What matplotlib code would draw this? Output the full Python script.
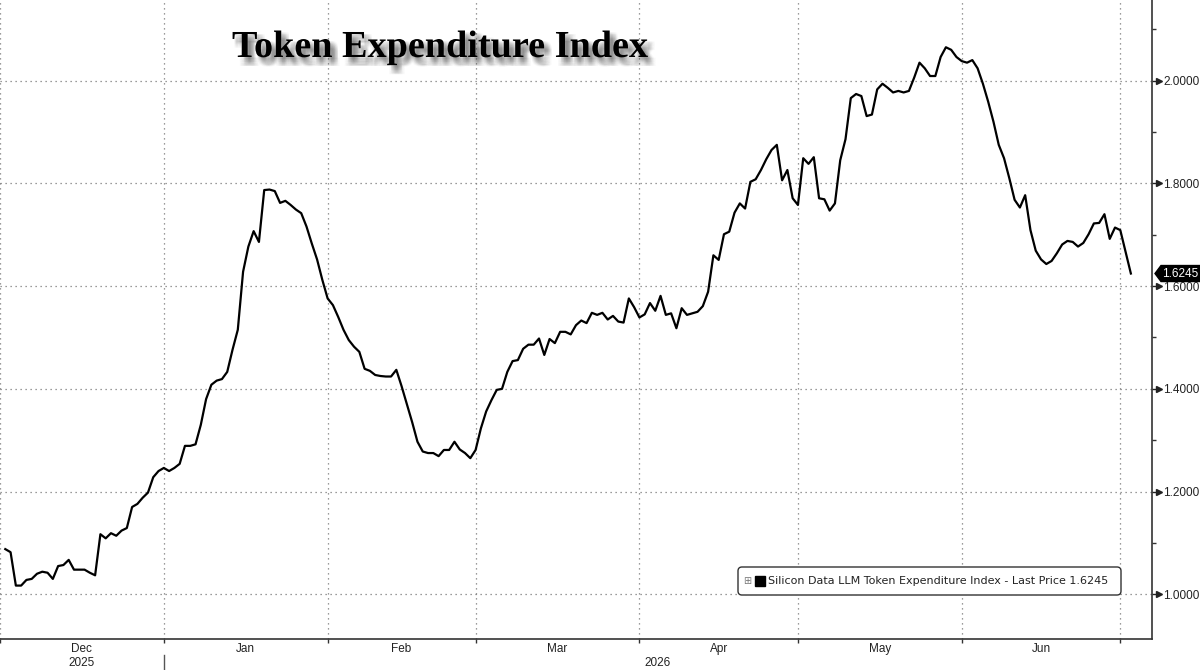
import matplotlib
matplotlib.use("Agg")
import matplotlib.pyplot as plt
import matplotlib.patheffects as pe
import matplotlib.transforms as mtransforms
import matplotlib.dates as mdates
from matplotlib.patches import FancyBboxPatch, Polygon, Rectangle
import pandas as pd

# ---------------- data ----------------
title = "Token Expenditure Index"
legend_label = "Silicon Data LLM Token Expenditure Index - Last Price 1.6245"
start_date = "2025-12-02"

dec_2025 = [1.088, 1.082, 1.017, 1.017, 1.028, 1.030, 1.040, 1.044, 1.042, 1.030,
            1.055, 1.057, 1.067, 1.048, 1.048, 1.048, 1.042, 1.037, 1.117, 1.109,
            1.119, 1.114, 1.124, 1.129, 1.170, 1.176, 1.188, 1.198, 1.228, 1.240]
jan_2026 = [1.246, 1.240, 1.246, 1.254, 1.289, 1.289, 1.292, 1.330, 1.380, 1.408,
            1.416, 1.419, 1.433, 1.476, 1.515, 1.628, 1.677, 1.707, 1.686, 1.787,
            1.788, 1.785, 1.762, 1.766, 1.758, 1.749, 1.742, 1.716, 1.683, 1.652,
            1.612]
feb_2026 = [1.576, 1.563, 1.540, 1.515, 1.495, 1.482, 1.472, 1.439, 1.435, 1.427,
            1.425, 1.424, 1.424, 1.437, 1.405, 1.370, 1.335, 1.297, 1.278, 1.275,
            1.275, 1.269, 1.281, 1.281, 1.297, 1.282, 1.275, 1.265]
mar_2026 = [1.281, 1.323, 1.356, 1.378, 1.398, 1.400, 1.433, 1.454, 1.456, 1.478,
            1.486, 1.486, 1.498, 1.466, 1.497, 1.489, 1.511, 1.511, 1.506, 1.524,
            1.533, 1.528, 1.548, 1.544, 1.548, 1.535, 1.542, 1.531, 1.529, 1.576,
            1.559]
apr_2026 = [1.539, 1.545, 1.567, 1.552, 1.581, 1.544, 1.547, 1.518, 1.557, 1.544,
            1.547, 1.550, 1.561, 1.589, 1.660, 1.651, 1.701, 1.706, 1.743, 1.761,
            1.751, 1.803, 1.808, 1.826, 1.847, 1.865, 1.875, 1.806, 1.826, 1.771]
may_2026 = [1.758, 1.849, 1.838, 1.851, 1.771, 1.769, 1.747, 1.761, 1.845, 1.886,
            1.966, 1.974, 1.970, 1.931, 1.934, 1.983, 1.994, 1.986, 1.977, 1.980,
            1.977, 1.980, 2.006, 2.035, 2.024, 2.009, 2.009, 2.046, 2.065, 2.060,
            2.046]
jun_2026 = [2.038, 2.035, 2.040, 2.024, 1.994, 1.959, 1.920, 1.875, 1.849, 1.810,
            1.768, 1.753, 1.777, 1.709, 1.669, 1.652, 1.643, 1.649, 1.664, 1.681,
            1.688, 1.686, 1.677, 1.684, 1.701, 1.722, 1.723, 1.740, 1.692, 1.714]
jul_2026 = [1.709, 1.667, 1.6245]

last_price = 1.6245
month_labels = ["Dec", "Jan", "Feb", "Mar", "Apr", "May", "Jun"]
year_labels = ["2025", "2026"]
y_ticks = [1.0, 1.2, 1.4, 1.6, 1.8, 2.0]
y_minor = [1.1, 1.3, 1.5, 1.7, 1.9, 2.1]
x_range = ("2025-12-01 22:30", "2026-07-07 00:00")
y_range = (0.913, 2.157)

values = dec_2025 + jan_2026 + feb_2026 + mar_2026 + apr_2026 + may_2026 + jun_2026 + jul_2026
dates = pd.date_range(start_date, periods=len(values), freq="D")

# ---------------- figure ----------------
W, H, DPI = 1200, 670, 100
TICK_FONT = "Liberation Sans"
fig = plt.figure(figsize=(W / DPI, H / DPI), dpi=DPI)
fig.patch.set_facecolor("white")
ax = fig.add_axes([0, 31 / H, 1152 / W, 639 / H])
ax.set_facecolor("white")

ax.plot(dates, values, color="black", lw=1.6, zorder=3)

x0, x1 = pd.Timestamp(x_range[0]), pd.Timestamp(x_range[1])
ax.set_xlim(x0, x1)
ax.set_ylim(*y_range)

# spines
for s in ["top", "left"]:
    ax.spines[s].set_visible(False)
for s in ["right", "bottom"]:
    ax.spines[s].set_color("#333333")
    ax.spines[s].set_linewidth(1.2)

# x axis: month boundaries as major ticks, labels at mid-month
month_starts = pd.date_range("2025-12-01", "2026-07-01", freq="MS")
mids = [month_starts[i] + (month_starts[i + 1] - month_starts[i]) / 2 for i in range(len(month_labels))]
ax.set_xticks(month_starts)
ax.set_xticklabels([])
ax.set_xticks(mids, minor=True)
ax.set_xticklabels(month_labels, minor=True, family=TICK_FONT, fontsize=8.5)
ax.tick_params(axis="x", which="major", direction="out", length=3, width=1, color="#333333")
ax.tick_params(axis="x", which="minor", length=0, pad=3, labelcolor="#222222")

# y axis on the right
ax.yaxis.tick_right()
ax.set_yticks(y_ticks)
ax.set_yticklabels([f"{v:.4f}" for v in y_ticks], family=TICK_FONT, fontsize=8.5)
ax.set_yticks(y_minor, minor=True)
ax.tick_params(axis="y", which="major", direction="out", length=3, width=1,
               color="#222222", pad=5, labelcolor="#222222")
ax.tick_params(axis="y", which="minor", direction="out", length=3, width=1, color="#333333")
tr_y = mtransforms.blended_transform_factory(ax.transAxes, ax.transData)
for v in y_ticks:
    ax.plot([1.0058], [v], marker=">", ms=4, color="#222222", transform=tr_y, clip_on=False)

# grid
ax.set_axisbelow(True)
ax.grid(True, which="major", axis="both", color="#7a7a7a", linestyle=(0, (1, 3)), lw=0.9)

# year labels and separator
tr_x = mtransforms.blended_transform_factory(ax.transData, ax.transAxes)
jan1 = month_starts[1]
ax.text(mids[0], -0.038, year_labels[0], transform=tr_x, ha="center", va="center",
        family=TICK_FONT, fontsize=8.5, color="#222222")
ax.text(jan1 + (x1 - jan1) / 2, -0.038, year_labels[1], transform=tr_x, ha="center",
        va="center", family=TICK_FONT, fontsize=8.5, color="#222222")
ax.plot([jan1, jan1], [-0.025, -0.05], transform=tr_x, color="#555555", lw=1, clip_on=False)

# title with soft blurred shadow
shadow = []
for dx in [1.5, 2.5, 3.5, 4.5, 5.5]:
    for dy in [-1.5, -2.5, -3.5, -4.5, -5.5, -6.5]:
        shadow.append(pe.SimplePatchShadow(offset=(dx, dy), shadow_rgbFace="#555555", alpha=0.035))
fig.text(232 / W, 1 - 57 / H, title, family="Liberation Serif", weight="bold",
         fontsize=27.5, color="black", va="baseline", ha="left",
         path_effects=shadow + [pe.Normal()])

# last price tag
ident = mtransforms.IdentityTransform()
fig.canvas.draw()
xs = ax.transAxes.transform((1, 0))[0]
yp = ax.transData.transform((mdates.date2num(dates[-1]), last_price))[1]
tag = Polygon([(xs + 3, yp), (xs + 9, yp + 8), (xs + 48, yp + 8), (xs + 48, yp - 8),
               (xs + 9, yp - 8)], closed=True, facecolor="black", edgecolor="black",
              transform=ident)
fig.add_artist(tag)
fig.text(xs + 10, yp, f"{last_price:.4f}", transform=ident, color="white",
         family=TICK_FONT, fontsize=8.5, va="center", ha="left")

# legend box
box = FancyBboxPatch((738, H - 595), 383, 28, boxstyle="round,pad=0,rounding_size=4",
                     facecolor="white", edgecolor="#333333", lw=1.0, transform=ident)
fig.add_artist(box)
fig.text(747, H - 581, "\u229e", transform=ident, color="#777777", fontsize=7,
         va="center", ha="center")
fig.add_artist(Rectangle((755, H - 586), 10, 10, facecolor="black", edgecolor="black",
                         transform=ident))
fig.text(768, H - 581, legend_label, transform=ident, color="#222222", fontsize=8,
         va="center", ha="left")

fig.savefig("out.png", dpi=DPI, facecolor="white")
